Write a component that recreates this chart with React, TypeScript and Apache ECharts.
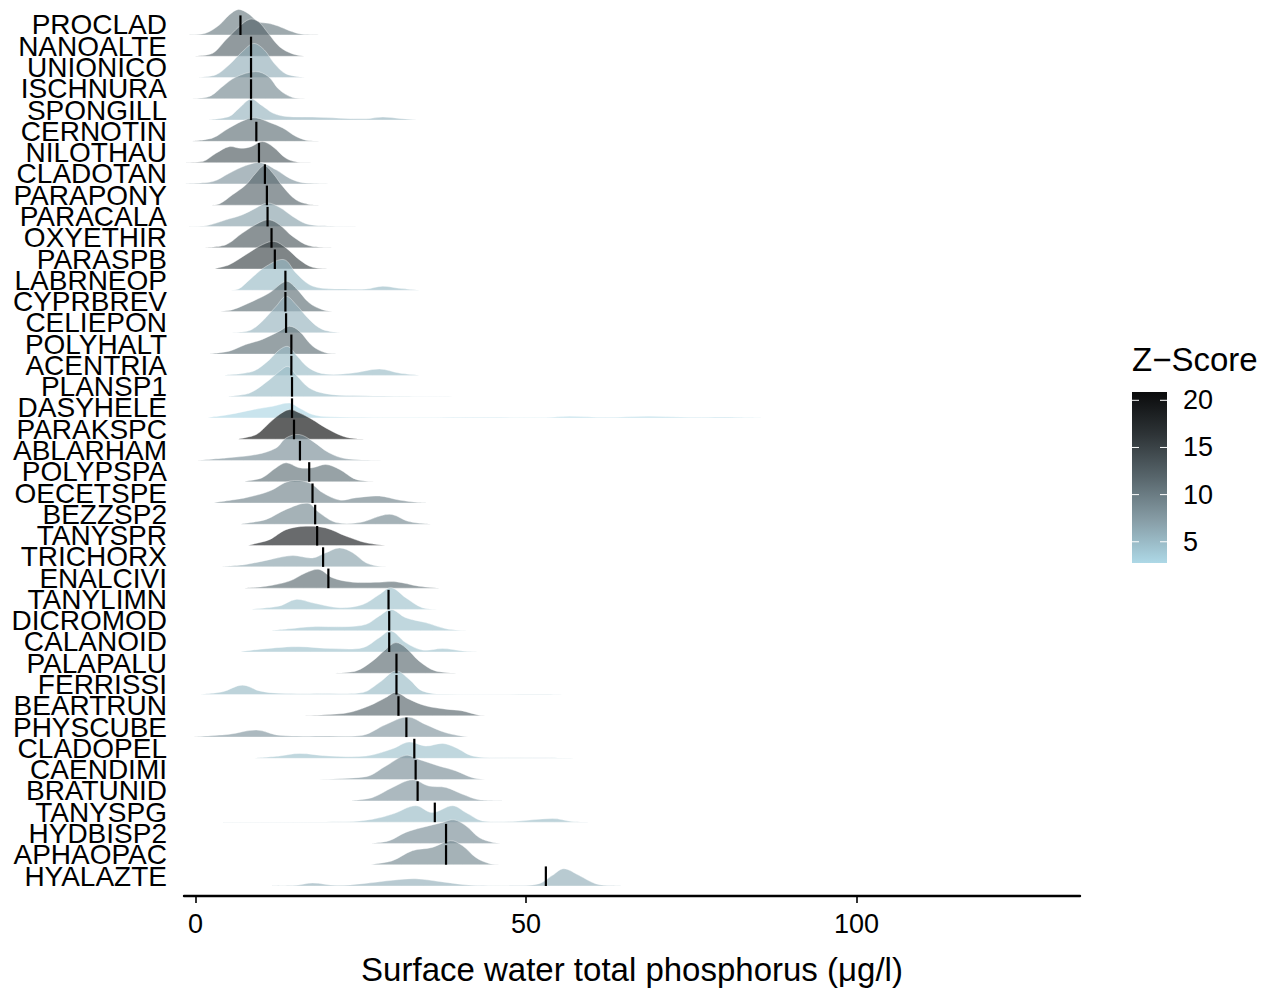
import { useEffect, useRef } from 'react';
import * as echarts from 'echarts';

// species, top to bottom
const species = [
  'PROCLAD', 'NANOALTE', 'UNIONICO', 'ISCHNURA', 'SPONGILL', 'CERNOTIN', 'NILOTHAU',
  'CLADOTAN', 'PARAPONY', 'PARACALA', 'OXYETHIR', 'PARASPB', 'LABRNEOP', 'CYPRBREV',
  'CELIEPON', 'POLYHALT', 'ACENTRIA', 'PLANSP1', 'DASYHELE', 'PARAKSPC', 'ABLARHAM',
  'POLYPSPA', 'OECETSPE', 'BEZZSP2', 'TANYSPR', 'TRICHORX', 'ENALCIVI', 'TANYLIMN',
  'DICROMOD', 'CALANOID', 'PALAPALU', 'FERRISSI', 'BEARTRUN', 'PHYSCUBE', 'CLADOPEL',
  'CAENDIMI', 'BRATUNID', 'TANYSPG', 'HYDBISP2', 'APHAOPAC', 'HYALAZTE',
];

const zScores = [
  10, 12, 6, 9, 5.5, 11, 13,
  8, 12, 7, 13, 15, 5, 11,
  5.5, 11, 5, 5, 2.9, 20.8, 8.5,
  11, 9.5, 9, 19, 7, 11.5, 4.5,
  4.5, 4.5, 11.5, 5, 12, 8, 4.5,
  8.5, 8, 5, 8.5, 9, 6,
];

// change point (black tick) per species
const medians = [
  6.8, 8.4, 8.4, 8.4, 8.4, 9.2, 9.6,
  10.5, 10.8, 10.9, 11.5, 12.0, 13.6, 13.6,
  13.7, 14.5, 14.5, 14.6, 14.6, 14.9, 15.8,
  17.2, 17.7, 18.1, 18.4, 19.3, 20.1, 29.2,
  29.3, 29.3, 30.4, 30.4, 30.7, 31.9, 33.1,
  33.3, 33.6, 36.2, 37.9, 37.9, 53.0,
];

// density outlines: [phosphorus, height in rows]
const ridges: number[][][] = [
  [[-1, 0], [1.5, 0.08], [3.6, 0.47], [5.1, 0.94], [6.5, 1.2], [8, 1.0], [9.5, 0.62], [11, 0.55], [12.5, 0.42], [14.2, 0.2], [16.2, 0.03], [18.7, 0]],
  [[0.1, 0], [2.6, 0.14], [4.6, 0.77], [6.6, 1.39], [8.2, 1.74], [9.5, 1.63], [11, 1.08], [12.7, 0.45], [14.7, 0.11], [16.7, 0]],
  [[0.6, 0], [3.1, 0.13], [5.1, 0.6], [7.1, 1.22], [8.8, 1.6], [10.4, 1.3], [11.9, 0.67], [13.7, 0.17], [16.7, 0]],
  [[-0.9, 0], [2.1, 0.11], [4.1, 0.58], [6.1, 1.02], [9.1, 1.28], [11, 1.05], [12.7, 0.42], [14.7, 0.06], [17.2, 0]],
  [[2.1, 0], [5.1, 0.17], [6.6, 0.56], [8.4, 0.99], [10.1, 0.67], [11.7, 0.33], [13.7, 0.17], [17.7, 0.14], [21.8, 0.09], [25.8, 0.06], [28.3, 0.14], [30.8, 0.08], [33.8, 0]],
  [[-0.4, 0], [2.6, 0.16], [5.1, 0.63], [7.6, 1.02], [9.2, 1.1], [11.2, 0.89], [13.2, 0.63], [15.2, 0.23], [17.2, 0.03], [21.2, 0]],
  [[-1.4, 0], [1.1, 0.05], [3.1, 0.44], [5.1, 0.75], [6.9, 0.67], [8.4, 0.75], [10.1, 0.99], [11.7, 0.75], [13.7, 0.2], [15.5, 0.02], [18.2, 0]],
  [[-1.4, 0], [2.6, 0.11], [5.1, 0.5], [7.6, 0.86], [9.9, 1.0], [12.2, 0.66], [14.2, 0.27], [16.2, 0.06], [21.8, 0]],
  [[2.1, 0], [3.6, 0.06], [5.6, 0.49], [7.6, 0.95], [9.1, 1.5], [10.4, 1.86], [11.7, 1.5], [13.2, 0.88], [15.2, 0.25], [17.2, 0.03], [18.7, 0]],
  [[-0.9, 0], [1.6, 0.03], [4.6, 0.31], [7.1, 0.55], [9.1, 0.86], [10.9, 1.1], [12.7, 0.9], [14.7, 0.47], [16.7, 0.13], [19.2, 0.03], [24.3, 0]],
  [[1.6, 0], [4.6, 0.14], [7.1, 0.69], [9.7, 1.19], [11.2, 1.31], [12.7, 1.08], [14.7, 0.53], [17.2, 0.09], [20.7, 0]],
  [[3.1, 0], [5.1, 0.2], [7.6, 0.67], [10.1, 1.14], [11.9, 1.3], [13.7, 0.99], [15.7, 0.44], [17.7, 0.08], [20.2, 0]],
  [[5.1, 0], [6.5, 0.06], [8.2, 0.5], [10.7, 1.13], [13.4, 1.44], [15.2, 0.81], [17.2, 0.27], [19.2, 0.09], [22.6, 0.06], [25.8, 0.06], [28.3, 0.19], [30.8, 0.09], [33.8, 0]],
  [[3.6, 0], [5.6, 0.09], [8.7, 0.49], [11.2, 0.88], [13.7, 1.42], [15.2, 1.1], [17.2, 0.41], [19.2, 0.09], [21.2, 0]],
  [[5.1, 0], [8.2, 0.11], [10.1, 0.55], [12.2, 1.25], [13.7, 1.72], [15.2, 1.33], [17.2, 0.63], [19.2, 0.16], [22.2, 0]],
  [[2.1, 0], [5.1, 0.14], [7.6, 0.45], [10.1, 0.69], [12.7, 1.08], [14.2, 1.31], [15.7, 1.08], [17.7, 0.38], [19.7, 0.06], [21.8, 0]],
  [[4.6, 0], [8.7, 0.19], [11.2, 0.74], [12.7, 1.2], [14, 1.36], [15.2, 0.97], [17.2, 0.34], [19.7, 0.06], [23.8, 0.11], [27.8, 0.3], [30.8, 0.11], [33.8, 0]],
  [[5.1, 0], [8.2, 0.17], [11.2, 0.8], [12.7, 1.19], [14, 1.42], [15.2, 1.03], [17.2, 0.41], [19.7, 0.14], [23.8, 0.05], [30, 0.02], [39.9, 0]],
  [[2.1, 0], [5.1, 0.16], [8.7, 0.39], [11.7, 0.55], [14.2, 0.7], [15.7, 0.47], [17.7, 0.16], [20.2, 0.05], [30, 0.02], [45, 0.03], [53, 0.02], [56.5, 0.08], [62, 0.03], [68.6, 0.08], [75, 0.03], [80, 0.04], [85.5, 0]],
  [[6.6, 0], [9.2, 0.22], [11.2, 0.77], [12.7, 1.16], [14.2, 1.39], [15.7, 1.24], [17.7, 0.92], [19.7, 0.53], [22.3, 0.14], [24.3, 0.02], [25.8, 0]],
  [[0.6, 0], [4.6, 0.12], [9.2, 0.28], [12.2, 0.59], [13.7, 1.06], [15.7, 1.22], [17.7, 0.91], [20.2, 0.36], [22.8, 0.08], [28.8, 0]],
  [[7.6, 0], [10.1, 0.19], [12.2, 0.66], [13.7, 0.89], [15.7, 0.66], [17.7, 0.66], [19.7, 0.81], [21.8, 0.58], [24.3, 0.11], [27.8, 0]],
  [[3.1, 0], [7.6, 0.25], [11.2, 0.56], [14.2, 1.03], [17.2, 0.95], [19.2, 0.49], [21.8, 0.14], [24.3, 0.25], [27.8, 0.33], [30.8, 0.14], [33.8, 0.02], [35.3, 0]],
  [[7.1, 0], [10.7, 0.23], [13.7, 0.7], [17, 0.99], [18.7, 0.55], [21.3, 0.08], [24.8, 0.08], [29.3, 0.47], [32.3, 0.13], [35.8, 0]],
  [[8.2, 0], [11.2, 0.28], [13.7, 0.75], [16.7, 0.91], [19.7, 0.83], [22.8, 0.44], [25.8, 0.13], [28.8, 0]],
  [[4.1, 0], [7.6, 0.11], [11.2, 0.34], [14.7, 0.53], [17.7, 0.42], [19.7, 0.66], [21.8, 0.89], [23.8, 0.66], [25.8, 0.19], [27.8, 0.03], [30.3, 0]],
  [[7.6, 0], [10.7, 0.09], [14.2, 0.33], [16.7, 0.72], [18.7, 0.88], [20.7, 0.49], [23.8, 0.28], [27.8, 0.28], [30.3, 0.3], [33.8, 0.09], [36.8, 0]],
  [[8.7, 0], [12.7, 0.16], [15.2, 0.47], [17.7, 0.31], [21.8, 0.08], [25.3, 0.23], [27.8, 0.7], [29.6, 1.02], [31.8, 0.55], [34.3, 0.08], [36.8, 0]],
  [[11.7, 0], [14.2, 0.09], [17.7, 0.19], [22.8, 0.19], [25.8, 0.3], [27.8, 0.69], [29.6, 1.0], [31.8, 0.61], [34.8, 0.38], [37.9, 0.09], [40.9, 0]],
  [[7.1, 0], [12.2, 0.2], [15.7, 0.25], [20.7, 0.16], [25.3, 0.2], [27.8, 0.67], [29.6, 0.99], [31.8, 0.44], [34.3, 0.09], [37.4, 0.16], [40.4, 0.05], [42.9, 0]],
  [[20.7, 0], [24.3, 0.11], [26.8, 0.58], [28.8, 1.13], [30.3, 1.44], [31.8, 1.2], [33.8, 0.58], [36.3, 0.11], [40.4, 0]],
  [[1.1, 0], [4.1, 0.13], [7.1, 0.44], [9.7, 0.17], [12.7, 0.06], [20.2, 0.05], [25.3, 0.09], [27.8, 0.56], [30.3, 1.11], [32.3, 0.72], [34.3, 0.17], [37.9, 0.02], [53, 0.02], [55.5, 0]],
  [[16.7, 0], [22.8, 0.13], [26.3, 0.47], [28.8, 0.86], [30.3, 1.1], [32.3, 0.78], [34.8, 0.47], [37.9, 0.31], [40.4, 0.23], [42.9, 0.03], [44.9, 0]],
  [[0.1, 0], [5.1, 0.13], [9.2, 0.33], [12.7, 0.08], [20.2, 0.05], [25.3, 0.08], [28.8, 0.59], [32.1, 0.94], [34.8, 0.59], [37.9, 0.2], [40.9, 0.02], [42.9, 0]],
  [[9.2, 0], [12.7, 0.11], [15.7, 0.23], [20.2, 0.11], [25.8, 0.11], [29.8, 0.45], [32.3, 0.77], [34.8, 0.58], [37.4, 0.7], [39.4, 0.5], [41.9, 0.11], [45.4, 0.03], [53, 0.03], [59, 0]],
  [[16.7, 0], [25.8, 0.14], [28.8, 0.64], [31.8, 1.14], [33.8, 0.95], [36.8, 0.64], [39.4, 0.41], [41.9, 0.09], [44.4, 0]],
  [[23.8, 0], [26.8, 0.16], [29.8, 0.63], [32.8, 0.99], [35.3, 0.7], [37.9, 0.63], [40.4, 0.31], [42.9, 0.05], [46.4, 0]],
  [[4.6, 0], [22.8, 0.02], [26.8, 0.14], [29.8, 0.38], [33.3, 0.77], [35.8, 0.45], [38.9, 0.77], [40.9, 0.45], [43.4, 0.06], [47.9, 0.03], [54, 0.17], [57, 0.03], [59.5, 0]],
  [[26.8, 0], [29.3, 0.13], [31.8, 0.52], [34.3, 0.75], [37.4, 0.99], [39.1, 1.11], [40.9, 0.83], [42.9, 0.28], [45, 0.05], [46.9, 0]],
  [[26.8, 0], [29.8, 0.19], [32.8, 0.66], [35.8, 0.81], [38.6, 1.13], [40.4, 0.89], [42.4, 0.34], [44.4, 0.06], [46.4, 0]],
  [[11.7, 0], [15.2, 0.03], [17.7, 0.14], [21.3, 0.03], [25.3, 0.11], [29.8, 0.27], [33.3, 0.34], [37.4, 0.19], [41.9, 0.03], [47.9, 0.02], [52, 0.11], [54, 0.5], [55.7, 0.81], [58, 0.5], [60.5, 0.11], [63, 0.02], [64.9, 0]],
];

const xTicks = [0, 50, 100];
const legendTicks = [5, 10, 15, 20];
const zMin = 2.75;
const zMax = 20.88;
const zColors = ['#add8e6', '#879da6', '#58666c', '#2e3437', '#0a0b0c'];

const FONT = '"Liberation Sans", Arial, Helvetica, sans-serif';
const BASE = 0.47; // ridge baseline sits just under its label
const TICK_H = 0.92;

export default function App() {
  const chartRef = useRef<HTMLDivElement>(null);

  useEffect(() => {
    if (!chartRef.current) return;
    const chart = echarts.init(chartRef.current, null, { renderer: 'svg' });

    const barX = 1132;
    const barY = 392;
    const barW = 35;
    const barH = 171;
    const zToY = (z: number) => barY + barH - ((z - zMin) / (zMax - zMin)) * barH;

    const legend: any[] = [
      {
        type: 'text',
        left: 1132,
        top: 343,
        style: { text: 'Z\u2212Score', font: `33px ${FONT}`, fill: '#000' },
      },
      {
        type: 'rect',
        shape: { x: barX, y: barY, width: barW, height: barH },
        style: {
          fill: new echarts.graphic.LinearGradient(0, 0, 0, 1,
            zColors.slice().reverse().map((c, k) => ({ offset: k / (zColors.length - 1), color: c }))),
        },
      },
    ];
    legendTicks.forEach((t) => {
      const y = zToY(t);
      legend.push(
        { type: 'line', shape: { x1: barX, y1: y, x2: barX + 7, y2: y }, style: { stroke: '#fff', lineWidth: 1 } },
        { type: 'line', shape: { x1: barX + barW - 7, y1: y, x2: barX + barW, y2: y }, style: { stroke: '#fff', lineWidth: 1 } },
        {
          type: 'text',
          x: 1183,
          y,
          style: { text: String(t), font: `27px ${FONT}`, fill: '#000', verticalAlign: 'middle', align: 'left' },
        },
      );
    });

    const option = {
      animation: false,
      backgroundColor: '#fff',
      grid: { left: 184, right: 190, top: 3.7, bottom: 94, containLabel: false },
      xAxis: {
        type: 'value',
        min: -1.74,
        max: 133.8,
        name: 'Surface water total phosphorus (\u03bcg/l)',
        nameLocation: 'middle',
        nameGap: 57,
        nameTextStyle: { fontSize: 33, color: '#000', fontFamily: FONT },
        axisLine: { show: true, onZero: false, lineStyle: { color: '#000', width: 2.4 } },
        axisTick: { show: true, length: 7, customValues: xTicks, lineStyle: { color: '#000', width: 1.6 } },
        axisLabel: { customValues: xTicks, fontSize: 27, color: '#000', fontFamily: FONT, margin: 14 },
        splitLine: { show: false },
      },
      yAxis: {
        type: 'value',
        inverse: true,
        min: -1,
        max: 40.94,
        interval: 1,
        axisLine: { show: false },
        axisTick: { show: false },
        splitLine: { show: false },
        axisLabel: {
          fontSize: 28,
          lineHeight: 20,
          color: '#000',
          fontFamily: FONT,
          margin: 17,
          showMaxLabel: false,
          formatter: (v: number) => species[v] ?? '',
        },
      },
      visualMap: {
        show: false,
        type: 'continuous',
        seriesIndex: 0,
        dimension: 1,
        min: zMin,
        max: zMax,
        inRange: { color: zColors },
      },
      graphic: legend,
      series: [
        {
          type: 'custom',
          data: species.map((_, i) => [i, zScores[i]]),
          renderItem: (params: any, api: any) => {
            const i = api.value(0);
            const base = i + BASE;
            const pts = ridges[i].map(([x, h]) => api.coord([x, base - h]));
            return {
              type: 'polygon',
              shape: { points: pts, smooth: 0.35, smoothConstraint: [[0, 0], [0, 0]] },
              style: { fill: api.visual('color'), stroke: '#ffffff', lineWidth: 0.6, opacity: 0.65 },
            };
          },
          silent: true,
          z: 2,
        },
        {
          type: 'custom',
          data: medians.map((m, i) => [m, i]),
          renderItem: (params: any, api: any) => {
            const m = api.value(0);
            const i = api.value(1);
            const p1 = api.coord([m, i + BASE]);
            const p2 = api.coord([m, i + BASE - TICK_H]);
            return {
              type: 'line',
              shape: { x1: p1[0], y1: p1[1], x2: p2[0], y2: p2[1] },
              style: { stroke: '#000', lineWidth: 2.2 },
            };
          },
          silent: true,
          z: 3,
        },
      ],
    };

    chart.setOption(option);
    return () => chart.dispose();
  }, []);

  return (
    <div
      ref={chartRef}
      style={{ position: 'fixed', left: 0, top: 0, width: 1270, height: 991, background: '#fff' }}
    />
  );
}
